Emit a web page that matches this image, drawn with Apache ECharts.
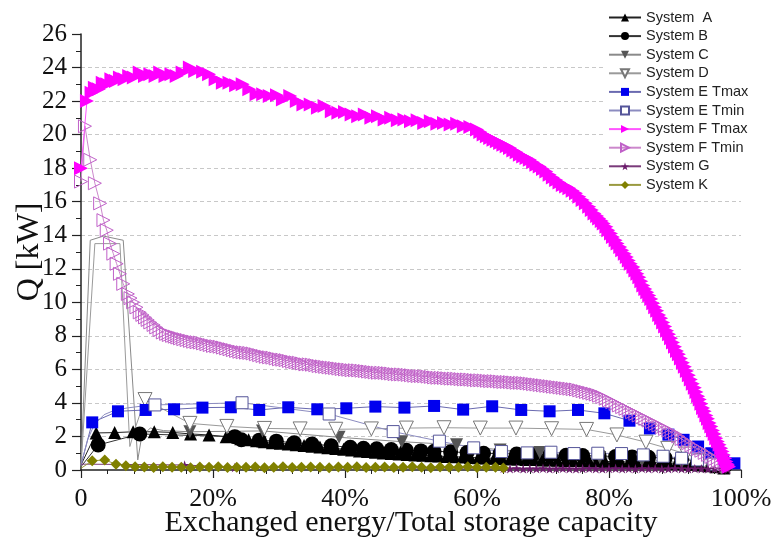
<!DOCTYPE html>
<html><head><meta charset="utf-8">
<script src="https://cdn.jsdelivr.net/npm/echarts@6/dist/echarts.min.js"></script>
<style>html,body{margin:0;padding:0;background:#fff}#c{width:777px;height:550px}</style>
</head><body><div id="c"></div>
<script>
// ---- tick labels ----
const xTickLabels = ['0', '20%', '40%', '60%', '80%', '100%'];
const yTickValues = [0, 2, 4, 6, 8, 10, 12, 14, 16, 18, 20, 22, 24, 26];

// ---- data: [exchanged energy %, Q kW] ----
const sysALead = [[0, 0.3]];
const sysA = [[2.3,2.21],[5.1,2.23],[7.9,2.28],[11.1,2.28],[13.9,2.24],[16.6,2.15],[19.4,2.09],[22.0,1.98],[24.2,1.86],[25.4,1.8],[26.6,1.74],[27.8,1.68],[29.0,1.63],[30.2,1.59],[31.4,1.55],[32.6,1.5],[33.8,1.46],[35.0,1.41],[36.2,1.37],[37.4,1.32],[38.6,1.28],[39.8,1.24],[41.0,1.19],[42.2,1.14],[43.4,1.1],[44.6,1.06],[45.8,1.02],[47.0,0.99],[48.2,0.96],[49.4,0.93],[50.6,0.9],[51.8,0.88],[53.0,0.85],[54.2,0.83],[55.4,0.81],[56.6,0.79],[57.8,0.77],[59.0,0.75],[60.2,0.73],[61.4,0.71],[62.6,0.7],[63.8,0.68],[65.0,0.66],[66.2,0.65],[67.4,0.63],[68.6,0.62],[69.8,0.6],[71.0,0.59],[72.2,0.58],[73.4,0.57],[74.6,0.56],[75.8,0.55],[77.0,0.54],[78.2,0.53],[79.4,0.51],[80.6,0.5],[81.8,0.49],[83.0,0.48],[84.2,0.47],[85.4,0.45],[86.6,0.44],[87.8,0.43],[89.0,0.41],[90.2,0.4],[91.4,0.37],[92.6,0.34],[93.8,0.3],[95.0,0.25],[96.2,0.19],[97.4,0.12]];
const sysBLead = [[0, 0.2]];
const sysB = [[2.6,1.49],[8.9,2.15],[23.3,1.99],[24.3,1.8],[27.0,1.78],[29.6,1.72],[32.3,1.62],[35.0,1.55],[37.9,1.45],[40.8,1.35],[42.8,1.3],[44.8,1.27],[47.0,1.22],[49.3,1.18],[51.5,1.14],[53.5,1.12],[56.0,1.08],[58.5,1.04],[61.0,1.0],[63.5,0.98],[66.0,0.95],[68.5,0.92],[71.0,0.9],[73.5,0.88],[76.0,0.86],[78.5,0.84],[81.0,0.8],[83.5,0.78],[86.0,0.76],[88.5,0.71],[91.0,0.64],[93.5,0.54],[95.5,0.42],[97.5,0.2]];
const sysCLead = [[0,0.3],[1.4,13.7],[3.4,13.95],[6.4,13.7],[8.6,0.6],[9.2,2.0],[10.5,2.5],[12.5,2.35]];
const sysC = [[16.5,2.28],[27.5,2.33],[39.1,1.95],[48.6,1.69],[56.9,1.5],[63.5,1.2],[69.5,1.05],[78.6,0.75],[85.0,0.6],[91.0,0.45],[96.0,0.2]];
const sysDLead = [[0,0.2],[2.1,13.5],[5.9,13.5],[7.4,1.4],[8.3,2.6]];
const sysD = [[9.7,4.2],[16.5,2.78],[22.1,2.6],[27.8,2.48],[33.2,2.45],[38.6,2.43],[44.0,2.45],[49.3,2.5],[55.0,2.52],[60.5,2.5],[65.9,2.5],[71.3,2.46],[76.6,2.42],[81.2,2.09],[85.6,1.66],[88.9,1.29],[91.7,0.95],[94.5,0.55],[97.0,0.2]];
const sysETmaxLead = [[0, 0.3]];
const sysETmax = [[1.7,2.84],[5.6,3.5],[9.8,3.58],[14.1,3.62],[18.4,3.72],[22.7,3.74],[27.0,3.58],[31.4,3.74],[35.8,3.62],[40.2,3.68],[44.6,3.78],[49.0,3.72],[53.5,3.82],[57.9,3.6],[62.3,3.8],[66.7,3.58],[71.0,3.5],[75.3,3.58],[79.3,3.38],[83.1,2.94],[86.2,2.48],[89.0,2.11],[91.3,1.8],[93.5,1.4],[95.5,1.0],[97.3,0.6],[99.0,0.4]];
const sysETminLead = [[0,0.3],[1.0,1.8],[2.0,2.7],[3.5,3.3],[5.0,3.55],[7.0,3.7],[9.0,3.8]];
const sysETmin = [[11.2,3.88],[24.4,4.01],[37.6,3.34],[47.3,2.29],[54.3,1.72],[59.5,1.32],[63.7,1.1],[67.6,1.02],[71.2,1.06],[74.7,0.98],[78.3,1.0],[81.9,0.98],[85.2,0.9],[88.2,0.82],[91.0,0.7],[93.4,0.6],[95.8,0.35]];
const sysFTmax = [[0,18.0],[0.9,22.0],[1.6,22.5],[2.1,22.8],[2.7,22.7],[3.3,23.1],[4.0,23.0],[4.6,23.3],[5.3,23.2],[5.9,23.4],[6.6,23.3],[7.3,23.5],[8.0,23.4],[8.9,23.7],[9.7,23.5],[10.5,23.6],[11.3,23.5],[12.0,23.7],[12.8,23.5],[13.7,23.6],[14.5,23.5],[15.4,23.7],[16.5,24.0],[17.3,23.8],[18.5,23.75],[19.4,23.6],[20.4,23.3],[21.5,23.1],[22.5,23.1],[23.5,22.95],[24.5,23.0],[25.5,22.7],[26.6,22.4],[27.6,22.4],[28.6,22.3],[29.7,22.35],[30.6,22.1],[31.7,22.3],[32.7,22.0],[33.7,21.8],[34.8,21.8],[35.9,21.6],[36.9,21.7],[38.0,21.4],[39.0,21.3],[40.0,21.35],[41.0,21.2],[42.0,21.1],[43.0,21.2],[44.0,21.0],[45.0,21.1],[46.0,20.9],[47.0,21.0],[48.0,20.85],[49.0,20.9],[50.0,20.8],[51.0,20.85],[52.0,20.7],[53.0,20.8],[54.0,20.65],[55.0,20.7],[56.0,20.6],[57.0,20.65],[58.0,20.5],[59.0,20.45],[60.0,20.3],[60.5,20.15],[61.0,20.0],[61.5,19.9],[62.0,19.8],[62.5,19.7],[63.0,19.6],[63.5,19.5],[64.0,19.4],[64.5,19.3],[65.0,19.2],[65.5,19.05],[66.0,18.95],[66.5,18.8],[67.0,18.7],[67.5,18.6],[68.0,18.5],[68.5,18.35],[69.0,18.2],[69.5,18.1],[70.0,17.95],[70.5,17.8],[71.0,17.6],[71.5,17.45],[72.0,17.3],[72.5,17.15],[73.0,17.0],[73.5,16.9],[74.0,16.8],[74.5,16.65],[75.0,16.5],[75.5,16.3],[76.0,16.1],[76.5,15.9],[77.0,15.7],[77.4,15.5],[77.8,15.3],[78.2,15.15],[78.5,15.0],[78.9,14.85],[79.2,14.7],[79.6,14.5],[79.9,14.3],[80.3,14.1],[80.6,13.9],[81.0,13.7],[81.3,13.5],[81.7,13.3],[82.0,13.1],[82.4,12.9],[82.7,12.7],[83.0,12.5],[83.3,12.3],[83.7,12.1],[84.0,11.9],[84.3,11.7],[84.6,11.5],[84.9,11.25],[85.2,11.0],[85.5,10.8],[85.8,10.6],[86.1,10.4],[86.4,10.2],[86.7,9.95],[87.0,9.7],[87.3,9.5],[87.6,9.25],[87.9,9.05],[88.2,8.8],[88.5,8.55],[88.8,8.3],[89.1,8.1],[89.4,7.85],[89.7,7.6],[90.0,7.35],[90.3,7.1],[90.6,6.9],[90.9,6.65],[91.2,6.4],[91.5,6.15],[91.8,5.9],[92.1,5.65],[92.4,5.4],[92.7,5.15],[93.0,4.9],[93.25,4.65],[93.5,4.4],[93.75,4.2],[94.0,3.95],[94.25,3.7],[94.5,3.5],[94.75,3.25],[95.0,3.05],[95.25,2.8],[95.5,2.6],[95.75,2.35],[96.0,2.15],[96.25,1.9],[96.5,1.7],[96.75,1.5],[97.0,1.3],[97.2,1.1],[97.4,0.9],[97.6,0.7],[97.8,0.5],[98.0,0.35],[98.2,0.2]];
const sysFTmin = [[0,17.2],[0.6,20.5],[1.4,18.5],[2.1,17.1],[2.9,15.9],[3.4,14.9],[3.9,14.3],[4.4,13.5],[4.9,12.9],[5.4,12.3],[5.9,11.7],[6.4,11.1],[7.1,10.5],[7.5,10.25],[7.9,10.0],[8.4,9.7],[8.9,9.4],[9.3,9.25],[9.7,9.1],[10.1,8.95],[10.5,8.8],[11.0,8.65],[11.4,8.5],[11.9,8.35],[12.4,8.2],[12.9,8.12],[13.3,8.05],[13.8,8.0],[14.2,7.95],[14.6,7.9],[15.0,7.85],[15.5,7.8],[16.0,7.75],[16.5,7.7],[17.0,7.65],[17.5,7.62],[18.0,7.6],[18.5,7.55],[19.0,7.5],[19.5,7.45],[20.0,7.4],[20.5,7.38],[21.0,7.35],[21.5,7.3],[22.0,7.25],[22.5,7.2],[23.0,7.15],[23.5,7.1],[24.0,7.05],[24.5,7.02],[25.0,7.0],[25.5,6.98],[26.0,6.95],[26.5,6.9],[27.0,6.85],[27.5,6.8],[28.0,6.75],[28.5,6.72],[29.0,6.7],[29.5,6.65],[30.0,6.6],[30.5,6.58],[31.0,6.55],[31.5,6.5],[32.0,6.45],[32.5,6.42],[33.0,6.4],[33.5,6.35],[34.0,6.3],[34.5,6.3],[35.0,6.28],[35.5,6.25],[36.0,6.2],[36.5,6.18],[37.0,6.15],[37.5,6.12],[38.0,6.1],[38.5,6.08],[39.0,6.05],[39.5,6.02],[40.0,6.0],[40.5,5.98],[41.0,5.95],[41.5,5.95],[42.0,5.94],[42.5,5.92],[43.0,5.9],[43.5,5.87],[44.0,5.85],[44.5,5.82],[45.0,5.8],[45.5,5.8],[46.0,5.79],[46.5,5.77],[47.0,5.75],[47.5,5.72],[48.0,5.7],[48.5,5.7],[49.0,5.69],[49.5,5.67],[50.0,5.65],[50.5,5.62],[51.0,5.6],[51.5,5.6],[52.0,5.59],[52.5,5.57],[53.0,5.55],[53.5,5.52],[54.0,5.5],[54.5,5.5],[55.0,5.49],[55.5,5.47],[56.0,5.45],[56.5,5.45],[57.0,5.44],[57.5,5.42],[58.0,5.4],[58.5,5.4],[59.0,5.39],[59.5,5.37],[60.0,5.35],[60.5,5.35],[61.0,5.34],[61.5,5.32],[62.0,5.3],[62.5,5.3],[63.0,5.29],[63.5,5.27],[64.0,5.25],[64.5,5.25],[65.0,5.24],[65.5,5.22],[66.0,5.2],[66.5,5.2],[67.0,5.19],[67.5,5.17],[68.0,5.15],[68.5,5.12],[69.0,5.1],[69.5,5.07],[70.0,5.05],[70.5,5.02],[71.0,5.0],[71.5,4.97],[72.0,4.95],[72.5,4.92],[73.0,4.9],[73.5,4.87],[74.0,4.85],[74.5,4.82],[75.0,4.8],[75.5,4.75],[76.0,4.7],[76.5,4.65],[77.0,4.6],[77.5,4.55],[78.0,4.5],[78.5,4.43],[79.0,4.35],[79.5,4.25],[80.0,4.15],[80.5,4.05],[81.0,3.95],[81.5,3.85],[82.0,3.75],[82.5,3.65],[83.0,3.55],[83.5,3.45],[84.0,3.35],[84.5,3.25],[85.0,3.15],[85.5,3.05],[86.0,2.95],[86.5,2.85],[87.0,2.75],[87.5,2.65],[88.0,2.55],[88.5,2.45],[89.0,2.35],[89.5,2.25],[90.0,2.15],[90.5,2.0],[91.0,1.85],[91.5,1.72],[92.0,1.6],[92.5,1.47],[93.0,1.35],[93.5,1.25],[94.0,1.15],[94.5,1.02],[95.0,0.9],[95.5,0.78],[96.0,0.65],[96.5,0.55],[97.0,0.45],[97.5,0.35],[98.0,0.25]];
const sysGLead = [[0, 0.35]];
const sysG = [[15.7,0.3],[23.3,0.15],[64.0,0.1],[65.0,0.08],[66.0,0.1],[67.0,0.07],[68.0,0.09],[69.0,0.08],[70.0,0.1],[71.0,0.07],[72.0,0.09],[73.0,0.1],[74.0,0.08],[75.0,0.07],[76.0,0.09],[77.0,0.1],[78.0,0.08],[79.0,0.07],[80.0,0.09],[81.0,0.1],[82.0,0.08],[83.0,0.09],[84.0,0.07],[85.0,0.1],[86.0,0.08],[87.0,0.09],[88.0,0.07],[89.0,0.08],[90.0,0.1],[91.0,0.08],[92.0,0.07],[93.0,0.09],[94.0,0.08],[95.0,0.07],[96.0,0.08],[97.0,0.06],[98.0,0.05]];
const sysKLead = [[0, 0.1]];
const sysK = [[1.7,0.55],[3.6,0.6],[5.3,0.35],[6.8,0.25],[8.2,0.2],[9.6,0.18],[11.0,0.15],[12.4,0.19],[13.8,0.16],[15.2,0.17],[16.6,0.14],[18.0,0.18],[19.4,0.16],[20.8,0.19],[22.2,0.15],[23.6,0.17],[25.0,0.16],[26.4,0.18],[27.8,0.14],[29.2,0.17],[30.6,0.19],[32.0,0.15],[33.4,0.16],[34.8,0.18],[36.2,0.17],[37.6,0.14],[39.0,0.18],[40.4,0.16],[41.8,0.19],[43.2,0.15],[44.6,0.17],[46.0,0.18],[47.4,0.15],[48.8,0.16],[50.2,0.19],[51.6,0.17],[53.0,0.14],[54.4,0.18],[55.8,0.16],[57.2,0.17],[58.6,0.19],[60.0,0.15],[61.4,0.17],[62.8,0.16],[64.0,0.12]];

const legendOrder = ['System  A','System B','System C','System D','System E Tmax','System E Tmin','System F Tmax','System F Tmin','System G','System K'];

const STAR = 'path://M50,0 L61,35 L98,35 L68,57 L79,91 L50,70 L21,91 L32,57 L2,35 L39,35 Z';
const CLEAR = 'rgba(0,0,0,0)';

function mk(name, lead, pts, o) {
  const data = lead.map(p => ({ value: p, symbol: 'none' })).concat(pts);
  return {
    name, type: 'line', data, showSymbol: true, showAllSymbol: true,
    symbol: o.symbol, symbolSize: o.size, symbolRotate: o.rotate || 0, symbolKeepAspect: true,
    itemStyle: { color: o.fill, borderColor: o.stroke || o.fill, borderWidth: o.bw || 0 },
    lineStyle: { color: o.line, width: o.lw || 1 },
    emphasis: { disabled: true }, animation: false, z: o.z || 2
  };
}

const chart = echarts.init(document.getElementById('c'), null, { renderer: 'canvas' });
const serif = 'Liberation Serif, Times New Roman, serif';
const splitColors = yTickValues.map((v, i) => (i === 0 || i === yTickValues.length - 1) ? CLEAR : '#c8c8c8');

chart.setOption({
  backgroundColor: '#fff',
  animation: false,
  grid: { left: 81, right: 36, top: 34, bottom: 80, containLabel: false, outerBoundsMode: 'none' },
  xAxis: {
    type: 'value', min: 0, max: 100, interval: 20,
    name: 'Exchanged energy/Total storage capacity', nameLocation: 'middle', nameGap: 38,
    nameMoveOverlap: false,
    nameTextStyle: { fontFamily: serif, fontSize: 30, color: '#111', verticalAlign: 'top' },
    axisLine: { show: true, lineStyle: { color: '#222', width: 1.5 } },
    axisTick: { show: true, length: 8, lineStyle: { color: '#222', width: 1.2 } },
    minorTick: { show: true, splitNumber: 5, length: 4, lineStyle: { color: '#222', width: 1 } },
    axisLabel: { margin: 16, fontFamily: serif, fontSize: 26, color: '#111',
      formatter: v => xTickLabels[Math.round(v / 20)] },
    splitLine: { show: false }
  },
  yAxis: {
    type: 'value', min: 0, max: 26, interval: 2,
    name: 'Q [kW]', nameLocation: 'middle', nameGap: 35, nameRotate: 90,
    nameMoveOverlap: false,
    nameTextStyle: { fontFamily: serif, fontSize: 32, color: '#111' },
    axisLine: { show: true, lineStyle: { color: '#222', width: 1.5 } },
    axisTick: { show: true, length: 9, lineStyle: { color: '#222', width: 1.2 } },
    minorTick: { show: true, splitNumber: 2, length: 5, lineStyle: { color: '#222', width: 1 } },
    axisLabel: { margin: 14, fontFamily: serif, fontSize: 25, color: '#111' },
    splitLine: { show: true, lineStyle: { color: splitColors, type: [4, 3], width: 1 } }
  },
  legend: {
    data: legendOrder, orient: 'vertical', left: 604, top: 8,
    backgroundColor: '#fff', padding: [2, 4, 2, 4],
    itemWidth: 32, itemHeight: 10, itemGap: 3.6,
    textStyle: { fontFamily: 'Liberation Sans, Arial, sans-serif', fontSize: 14.5, color: '#222' },
    selectedMode: false
  },
  series: [
    mk('System  A', sysALead, sysA, { symbol: 'triangle', size: 13, fill: '#000', line: '#222' }),
    mk('System B', sysBLead, sysB, { symbol: 'circle', size: 15, fill: '#000', line: '#333' }),
    mk('System C', sysCLead, sysC, { symbol: 'triangle', rotate: 180, size: 13, fill: '#555', line: '#8a8a8a' }),
    mk('System D', sysDLead, sysD, { symbol: 'triangle', rotate: 180, size: 14, fill: '#fff', stroke: '#777', bw: 1, line: '#9a9a9a' }),
    mk('System E Tmax', sysETmaxLead, sysETmax, { symbol: 'rect', size: 12, fill: '#0000ee', line: '#6a6ab0' }),
    mk('System E Tmin', sysETminLead, sysETmin, { symbol: 'rect', size: 12, fill: '#fff', stroke: '#555599', bw: 1, line: '#8c8cc0' }),
    mk('System G', sysGLead, sysG, { symbol: STAR, size: 10, fill: '#6a1a6a', line: '#7a3a7a' }),
    mk('System K', sysKLead, sysK, { symbol: 'diamond', size: 11, fill: '#808000', line: '#9a9a40' }),
    mk('System F Tmin', [], sysFTmin, { symbol: 'triangle', rotate: -90, size: 13, fill: CLEAR, stroke: '#c060c8', bw: 1, line: '#cc88cc', z: 3 }),
    mk('System F Tmax', [], sysFTmax, { symbol: 'triangle', rotate: -90, size: 14, fill: '#ff00ff', line: '#ff55ff', z: 4 })
  ]
});
</script></body></html>
